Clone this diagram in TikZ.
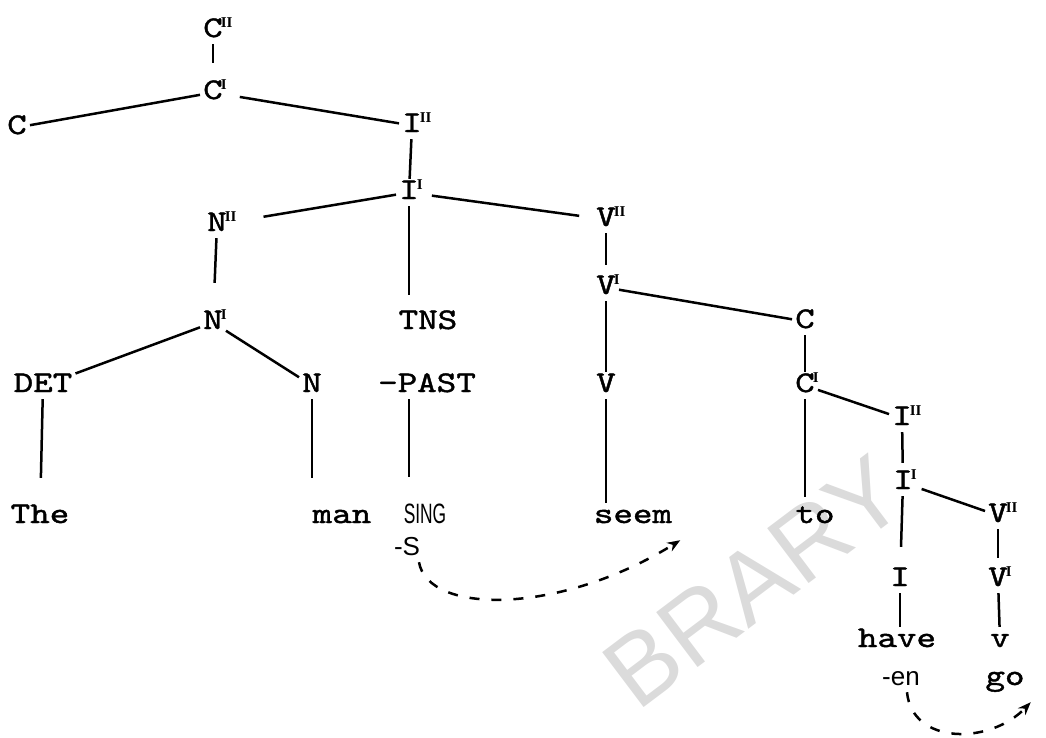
\documentclass[tikz,border=0pt]{standalone}
\usepackage{fontspec}
\newfontfamily\tw{lmmono10-regular.otf}[FakeStretch=1.24,FakeBold=1.4]
\newfontfamily\supf{Liberation Serif}
\newfontfamily\hand{Liberation Sans}
\usetikzlibrary{arrows.meta}
\newcommand{\lv}[1]{\rlap{\kern-2pt\raisebox{10pt}{\supf\fontsize{15}{15}\selectfont\bfseries #1}}}
\begin{document}
\begin{tikzpicture}[x=1pt,y=-1pt,
  tn/.style={font=\tw\fontsize{30}{30}\selectfont, anchor=base, inner sep=3pt, text height=17pt, text depth=4pt},
  hw/.style={font=\hand\fontsize{26}{26}\selectfont, anchor=base, inner sep=3pt, text height=17pt, text depth=4pt},
  edge/.style={line width=2.5pt},
  mv/.style={line width=2.5pt, dash pattern=on 10pt off 12pt, -{Stealth[length=13pt,width=10pt]}},
  wmark/.style={font=\hand\fontsize{100}{100}\selectfont, text=black!14, rotate=37, inner sep=0pt}
]
\useasboundingbox (0,0) rectangle (1046,737);
\node[wmark] (wm) at (754,582) {BRARY};

\node[tn] (CII) at (213,37) {C\lv{II}};
\node[tn] (CI) at (213,99) {C\lv{I}};
\node[tn] (Cl) at (17,134) {C};
\node[tn] (IP) at (412,132) {I\lv{II}};
\node[tn] (Ib) at (409,199) {I\lv{I}};
\node[tn] (NII) at (217,231) {N\lv{II}};
\node[tn] (VII) at (606,226) {V\lv{II}};
\node[tn] (NI) at (213,329) {N\lv{I}};
\node[tn] (TNS) at (428,329) {TNS};
\node[tn] (VI) at (606,294) {V\lv{I}};
\node[tn] (Cm) at (805,328) {C};
\node[tn] (DET) at (43,392) {DET};
\node[tn] (N) at (312,392) {N};
\node[tn] (PAST) at (427,392) {-PAST};
\node[tn] (V) at (606,392) {V};
\node[tn] (CI2) at (805,392) {C\lv{I}};
\node[tn] (IP2) at (902,425) {I\lv{II}};
\node[tn] (Ib2) at (903,489) {I\lv{I}};
\node[tn] (VII2) at (998,522) {V\lv{II}};
\node[tn] (Ism) at (900,586) {I};
\node[tn] (VI2) at (998,586) {V\lv{I}};
\node[tn] (The) at (40,523) {The};
\node[tn] (man) at (342,523) {man};
\node[hw] (SING) at (425,523) {\scalebox{0.62}[1]{\fontsize{28}{28}\selectfont SING}};
\node[tn] (seem) at (633,523) {seem};
\node[tn] (to) at (815,523) {to};
\node[hw] (S) at (407,555) {-S};
\node[hw] (en) at (901,685) {-en};
\node[tn] (have) at (897,647) {have};
\node[tn] (v) at (1000,647) {v};
\node[tn] (go) at (1005,685) {go};

\draw[edge,shorten >=16pt] (CII) -- (CI);
\draw[edge] (CI) -- (Cl);
\draw[edge,shorten <=14pt] (CI) -- (IP);
\draw[edge] (IP) -- (Ib);
\draw[edge,shorten >=34pt] (Ib) -- (NII);
\draw[edge,shorten <=10pt,shorten >=14pt] (Ib) -- (VII);
\draw[edge,shorten >=26pt] (NII) -- (NI);
\draw[edge,shorten >=14pt] (Ib.south) -- (Ib.south |- TNS.north);
\draw[edge,shorten >=9pt] (VII) -- (VI);
\draw[edge] (VI) -- (Cm);
\draw[edge] (NI) -- (DET);
\draw[edge] (NI) -- (N);
\draw[edge] (VI) -- (V);
\draw[edge] (Cm) -- (CI2);
\draw[edge,shorten >=25pt] (DET) -- (The);
\draw[edge,shorten >=25pt] (N.south) -- (N.south |- man.north);
\draw[edge,shorten >=26pt] ([xshift=-18pt]PAST.south) -- ([xshift=-18pt]PAST.south |- SING.north);
\draw[edge] (V.south) -- (V.south |- seem.north);
\draw[edge,shorten >=6pt] (CI2.south) -- (CI2.south |- to.north);
\draw[edge] (CI2) -- (IP2);
\draw[edge,shorten >=6pt] (IP2) -- (Ib2);
\draw[edge,shorten <=6pt] (Ib2) -- (VII2);
\draw[edge,shorten >=19pt] (Ib2) -- (Ism);
\draw[edge,shorten >=8pt] (VII2) -- (VI2);
\draw[edge] (Ism.south) -- (Ism.south |- have.north);
\draw[edge] (VI2) -- (v);

\draw[mv] ([xshift=12pt]S.south) .. controls (428,615) and (560,615) .. ([xshift=5pt,yshift=-10pt]seem.south east);
\draw[mv] ([xshift=6pt]en.south) .. controls (912,745) and (990,745) .. ([xshift=3pt,yshift=-10pt]go.south east);
\end{tikzpicture}
\end{document}
